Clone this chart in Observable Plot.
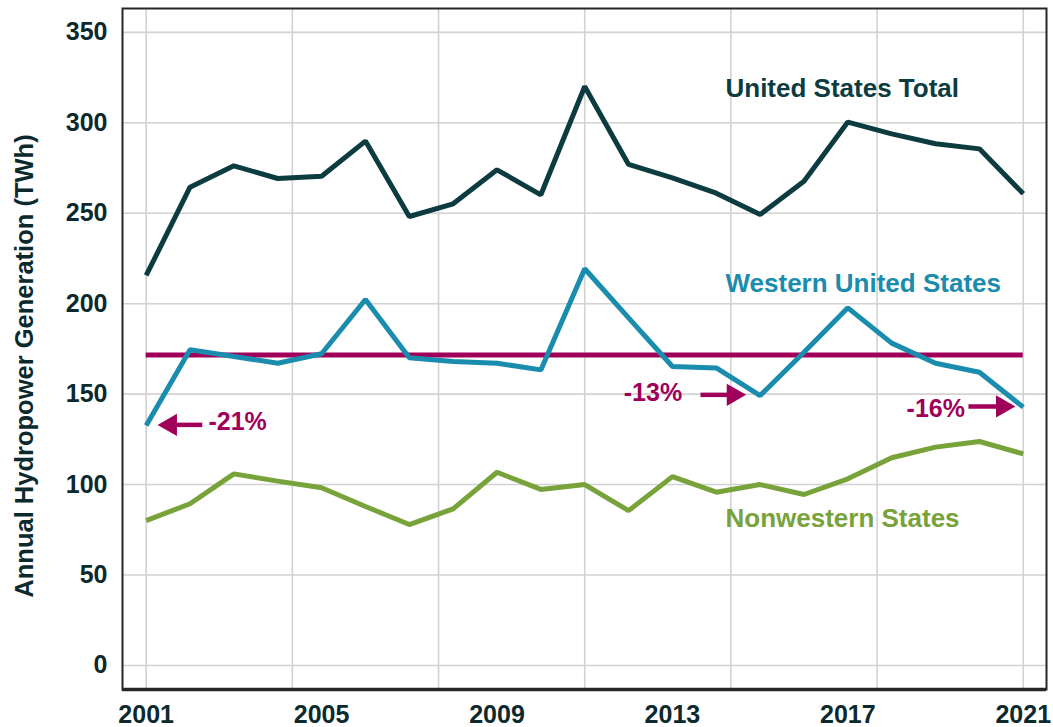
<!DOCTYPE html>
<html>
<head>
<meta charset="utf-8">
<script src="https://cdn.jsdelivr.net/npm/d3@7"></script>
<script src="https://cdn.jsdelivr.net/npm/@observablehq/plot@0.6"></script>
<style>
  html, body { margin: 0; padding: 0; background: #fff; }
  #chart svg { display: block; }
</style>
</head>
<body>
<div id="chart"></div>
<script>
// ---- Data ----
const years = [2001, 2002, 2003, 2004, 2005, 2006, 2007, 2008, 2009, 2010, 2011,
               2012, 2013, 2014, 2015, 2016, 2017, 2018, 2019, 2020, 2021];
const usTotal = [215.6, 264.4, 276.2, 269.2, 270.5, 289.9, 248.2, 255.2, 274.0, 260.2, 320.1,
                 277.0, 269.5, 261.1, 249.3, 267.7, 300.4, 293.9, 288.4, 285.6, 260.8];
const western = [132.7, 174.5, 170.8, 167.1, 172.3, 202.3, 170.1, 168.0, 167.1, 163.4, 219.3,
                 192.2, 165.3, 164.5, 149.2, 173.2, 197.7, 178.2, 167.1, 162.1, 142.8];
const nonwestern = [80.1, 89.4, 105.9, 101.9, 98.2, 87.9, 77.9, 86.6, 106.8, 97.3, 100.0,
                    85.6, 104.4, 95.8, 100.0, 94.5, 103.2, 114.8, 120.7, 123.8, 117.0];
const westernAverage = 171.7;
const seriesNames = ["United States Total", "Western United States", "Nonwestern States"];
const pctLabels = ["-21%", "-13%", "-16%"];
const xTickYears = [2001, 2005, 2009, 2013, 2017, 2021];
const xGridYears = [2001, 2004.333, 2007.667, 2011, 2014.333, 2017.667, 2021];
const yTicks = [0, 50, 100, 150, 200, 250, 300, 350];
const yTitle = "Annual Hydropower Generation (TWh)";

// ---- Styling / layout ----
const colors = {us: "#0d3c40", west: "#1a8cad", non: "#78a33a", avg: "#a0005a", text: "#0c2a2e"};
const font = "'Liberation Sans', Arial, Helvetica, sans-serif";
const lw = 5;

const toRows = vals => years.map((year, i) => ({year, value: vals[i]}));
const usRows = toRows(usTotal);
const westRows = toRows(western);
const nonRows = toRows(nonwestern);

// annotation anchors in data coordinates
const seriesLabels = [
  {name: seriesNames[0], x: 2014.21, y: 314.2, color: colors.us},
  {name: seriesNames[1], x: 2014.21, y: 206.4, color: colors.west},
  {name: seriesNames[2], x: 2014.21, y: 76.4, color: colors.non}
];
const pctAnno = [
  {label: pctLabels[0], x: 2002.42, y: 129.9},
  {label: pctLabels[1], x: 2011.89, y: 146.1},
  {label: pctLabels[2], x: 2018.34, y: 137.6}
];
const shafts = [
  {x1: 2002.28, x2: 2001.6, y: 133.0},
  {x1: 2013.64, x2: 2014.35, y: 149.6},
  {x1: 2019.75, x2: 2020.5, y: 143.2}
];
const headsLeft = [{x: 2001.26, y: 133.0}];
const headsRight = [{x: 2014.68, y: 149.6}, {x: 2020.82, y: 143.2}];

const yDomain = [-13.3, 363.2];

const chart = Plot.plot({
  width: 1053,
  height: 727,
  marginLeft: 122,
  marginRight: 7,
  marginTop: 8,
  marginBottom: 38,
  style: {fontFamily: font, fontSize: "25px", fontWeight: "bold", background: "#fff"},
  x: {domain: [2000.46, 2021.53], axis: null, label: null},
  y: {domain: yDomain, axis: null, label: null},
  marks: [
    Plot.gridY(yTicks, {stroke: "#d2d2d2", strokeOpacity: 1, strokeWidth: 1.6}),
    Plot.gridX(xGridYears, {stroke: "#d2d2d2", strokeOpacity: 1, strokeWidth: 1.6}),
    Plot.axisY(yTicks, {tickSize: 0, tickPadding: 15, fontSize: 25, fontWeight: "bold",
                        fill: colors.text, label: null}),
    Plot.axisX(xTickYears, {tickSize: 0, tickPadding: 16, fontSize: 25, fontWeight: "bold",
                            fill: colors.text, label: null, tickFormat: d => String(d)}),
    Plot.text([yTitle], {frameAnchor: "left", dx: -98, dy: 17, rotate: -90,
                         fontSize: 25.5, fontWeight: "bold", fill: colors.text,
                         textAnchor: "middle", lineAnchor: "middle"}),
    Plot.ruleY([westernAverage], {x1: years[0], x2: years[years.length - 1],
                                  stroke: colors.avg, strokeWidth: lw}),
    Plot.line(nonRows, {x: "year", y: "value", stroke: colors.non, strokeWidth: lw,
                        strokeLinejoin: "miter", strokeLinecap: "butt"}),
    Plot.line(westRows, {x: "year", y: "value", stroke: colors.west, strokeWidth: lw,
                         strokeLinejoin: "miter", strokeLinecap: "butt"}),
    Plot.line(usRows, {x: "year", y: "value", stroke: colors.us, strokeWidth: lw,
                       strokeLinejoin: "miter", strokeLinecap: "butt"}),
    Plot.text(seriesLabels, {x: "x", y: "y", text: "name", fill: "color",
                             textAnchor: "start", lineAnchor: "bottom",
                             fontSize: 26, fontWeight: "bold"}),
    Plot.link(shafts, {x1: "x1", x2: "x2", y1: "y", y2: "y", stroke: colors.avg, strokeWidth: 4.5}),
    Plot.dot(headsLeft, {x: "x", y: "y", symbol: "triangle", r: 8.3, rotate: -90, dx: 12.9,
                         fill: colors.avg, stroke: "none"}),
    Plot.dot(headsRight, {x: "x", y: "y", symbol: "triangle", r: 8.3, rotate: 90, dx: -12.9,
                          fill: colors.avg, stroke: "none"}),
    Plot.text(pctAnno, {x: "x", y: "y", text: "label", fill: colors.avg,
                        textAnchor: "start", lineAnchor: "bottom",
                        fontSize: 25, fontWeight: "bold"}),
    Plot.frame({stroke: "#262626", strokeWidth: 2}),
    Plot.ruleY([yDomain[0]], {stroke: "#262626", strokeWidth: 3.5})
  ]
});
document.getElementById("chart").appendChild(chart);
</script>
</body>
</html>
